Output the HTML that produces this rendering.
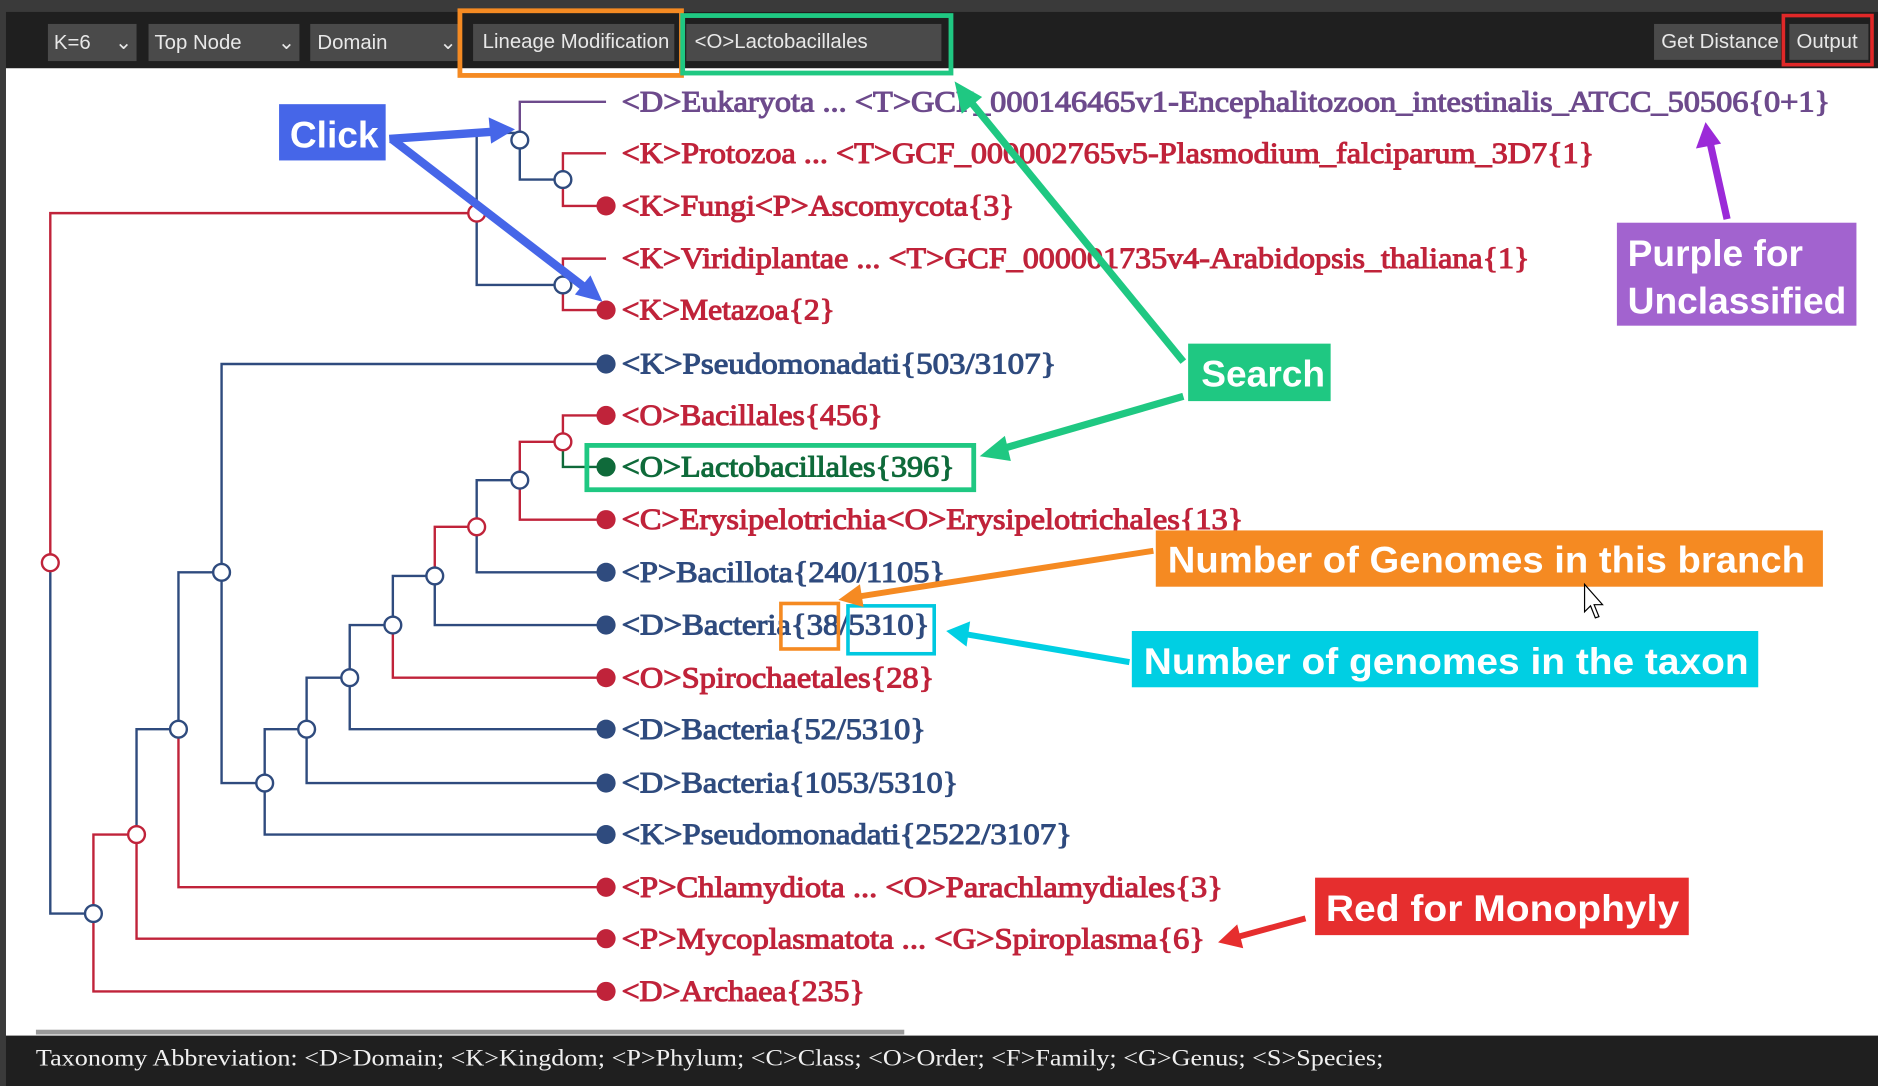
<!DOCTYPE html>
<html><head><meta charset="utf-8"><style>
html,body{margin:0;padding:0;background:#2b2b2b;}
svg{display:block;}
.t{font-family:"Liberation Serif",serif;font-size:25px;stroke-width:0.9;}
.r{fill:#c0233a;stroke:#c0233a;}
.b{fill:#2f4b7e;stroke:#2f4b7e;}
.p{fill:#6d4a8c;stroke:#6d4a8c;}
.g{fill:#0f6a3a;stroke:#0f6a3a;}
.tb{font-family:"Liberation Sans",sans-serif;font-size:17px;fill:#e8e8e8;}
.lab{font-family:"Liberation Sans",sans-serif;font-weight:bold;font-size:31px;fill:#fff;}
</style></head><body>
<svg width="1878" height="1086" viewBox="0 0 1568 907" preserveAspectRatio="none" xmlns="http://www.w3.org/2000/svg">
<rect x="0" y="0" width="1568" height="907" fill="#3a3a3a"/>
<rect x="5" y="10" width="1563" height="47" fill="#1f1f1f"/>
<rect x="5" y="57" width="1563" height="808" fill="#ffffff"/>
<rect x="5" y="865" width="1563" height="42" fill="#1f1f1f"/>
<rect x="30" y="860" width="725" height="4" fill="#9a9a9a"/>
<g>
<rect x="40" y="20" width="74" height="31" fill="#4a4a4a"/><text class="tb" x="45" y="41">K=6</text><text class="tb" x="96" y="41">⌄</text>
<rect x="124" y="20" width="126" height="31" fill="#4a4a4a"/><text class="tb" x="129" y="41">Top Node</text><text class="tb" x="232" y="41">⌄</text>
<rect x="259" y="20" width="125" height="31" fill="#4a4a4a"/><text class="tb" x="265" y="41">Domain</text><text class="tb" x="367" y="41">⌄</text>
<rect x="395" y="20" width="168" height="31" fill="#4a4a4a"/><text class="tb" x="403" y="40">Lineage Modification</text>
<rect x="573" y="20" width="213" height="31" fill="#4a4a4a"/><text class="tb" x="580" y="40">&lt;O&gt;Lactobacillales</text>
<rect x="1381" y="20" width="106" height="30" fill="#4a4a4a"/><text class="tb" x="1387" y="40">Get Distance</text>
<rect x="1494" y="20" width="66" height="30" fill="#4a4a4a"/><text class="tb" x="1500" y="40">Output</text>
<rect x="384" y="9" width="185" height="54" fill="none" stroke="#f58a22" stroke-width="4"/>
<rect x="570" y="13" width="224" height="48" fill="none" stroke="#1fc882" stroke-width="4"/>
<rect x="1489" y="13" width="74" height="41" fill="none" stroke="#e02828" stroke-width="3"/>
</g>
<g fill="none" stroke-width="2">
<path d="M42 470 V178 H398" stroke="#c0233a"/>
<path d="M42 470 V763 H78" stroke="#2f4b7e"/>
<path d="M398 178 V111 H434 M398 178 V238 H470" stroke="#2f4b7e"/>
<path d="M434 117 V85 H506" stroke="#6d4a8c"/>
<path d="M434 117 V150 H470" stroke="#2f4b7e"/>
<path d="M470 150 V128 H506 M470 150 V172 H506" stroke="#c0233a"/>
<path d="M470 238 V216 H506 M470 238 V259 H506" stroke="#c0233a"/>
<path d="M78 763 V828 H506 M78 763 V697 H114" stroke="#c0233a"/>
<path d="M114 697 V784 H506" stroke="#c0233a"/>
<path d="M114 697 V609 H149" stroke="#2f4b7e"/>
<path d="M149 609 V741 H506" stroke="#c0233a"/>
<path d="M149 609 V478 H185" stroke="#2f4b7e"/>
<path d="M185 478 V304 H506 M185 478 V654 H221" stroke="#2f4b7e"/>
<path d="M221 654 V697 H506 M221 654 V609 H256" stroke="#2f4b7e"/>
<path d="M256 609 V654 H506 M256 609 V566 H292" stroke="#2f4b7e"/>
<path d="M292 566 V609 H506 M292 566 V522 H328" stroke="#2f4b7e"/>
<path d="M328 522 V566 H506" stroke="#c0233a"/>
<path d="M328 522 V481 H363" stroke="#2f4b7e"/>
<path d="M363 481 V522 H506" stroke="#2f4b7e"/>
<path d="M363 481 V440 H398" stroke="#c0233a"/>
<path d="M398 440 V478 H506 M398 440 V401 H434" stroke="#2f4b7e"/>
<path d="M434 401 V434 H506 M434 401 V369 H470" stroke="#c0233a"/>
<path d="M470 369 V347 H506" stroke="#c0233a"/>
<path d="M470 369 V390 H506" stroke="#0f6a3a"/>
</g>
<g fill="#fff" stroke-width="2">
<circle cx="42" cy="470" r="7" stroke="#c0233a"/>
<circle cx="398" cy="178" r="7" stroke="#c0233a"/>
<circle cx="434" cy="117" r="7" stroke="#2f4b7e"/>
<circle cx="470" cy="150" r="7" stroke="#2f4b7e"/>
<circle cx="470" cy="238" r="7" stroke="#2f4b7e"/>
<circle cx="78" cy="763" r="7" stroke="#2f4b7e"/>
<circle cx="114" cy="697" r="7" stroke="#c0233a"/>
<circle cx="149" cy="609" r="7" stroke="#2f4b7e"/>
<circle cx="185" cy="478" r="7" stroke="#2f4b7e"/>
<circle cx="221" cy="654" r="7" stroke="#2f4b7e"/>
<circle cx="256" cy="609" r="7" stroke="#2f4b7e"/>
<circle cx="292" cy="566" r="7" stroke="#2f4b7e"/>
<circle cx="328" cy="522" r="7" stroke="#2f4b7e"/>
<circle cx="363" cy="481" r="7" stroke="#2f4b7e"/>
<circle cx="398" cy="440" r="7" stroke="#c0233a"/>
<circle cx="434" cy="401" r="7" stroke="#2f4b7e"/>
<circle cx="470" cy="369" r="7" stroke="#c0233a"/>
</g>
<g>
<circle cx="506" cy="172" r="8" fill="#c0233a"/>
<circle cx="506" cy="259" r="8" fill="#c0233a"/>
<circle cx="506" cy="304" r="8" fill="#2f4b7e"/>
<circle cx="506" cy="347" r="8" fill="#c0233a"/>
<circle cx="506" cy="390" r="8" fill="#0f6a3a"/>
<circle cx="506" cy="434" r="8" fill="#c0233a"/>
<circle cx="506" cy="478" r="8" fill="#2f4b7e"/>
<circle cx="506" cy="522" r="8" fill="#2f4b7e"/>
<circle cx="506" cy="566" r="8" fill="#c0233a"/>
<circle cx="506" cy="609" r="8" fill="#2f4b7e"/>
<circle cx="506" cy="654" r="8" fill="#2f4b7e"/>
<circle cx="506" cy="697" r="8" fill="#2f4b7e"/>
<circle cx="506" cy="741" r="8" fill="#c0233a"/>
<circle cx="506" cy="784" r="8" fill="#c0233a"/>
<circle cx="506" cy="828" r="8" fill="#c0233a"/>
</g>
<g>
<text class="t p" x="519" y="93" textLength="1009" lengthAdjust="spacingAndGlyphs">&lt;D&gt;Eukaryota ... &lt;T&gt;GCF_000146465v1-Encephalitozoon_intestinalis_ATCC_50506{0+1}</text>
<text class="t r" x="519" y="136" textLength="812" lengthAdjust="spacingAndGlyphs">&lt;K&gt;Protozoa ... &lt;T&gt;GCF_000002765v5-Plasmodium_falciparum_3D7{1}</text>
<text class="t r" x="519" y="180" textLength="328" lengthAdjust="spacingAndGlyphs">&lt;K&gt;Fungi&lt;P&gt;Ascomycota{3}</text>
<text class="t r" x="519" y="224" textLength="758" lengthAdjust="spacingAndGlyphs">&lt;K&gt;Viridiplantae ... &lt;T&gt;GCF_000001735v4-Arabidopsis_thaliana{1}</text>
<text class="t r" x="519" y="267" textLength="178" lengthAdjust="spacingAndGlyphs">&lt;K&gt;Metazoa{2}</text>
<text class="t b" x="519" y="312" textLength="363" lengthAdjust="spacingAndGlyphs">&lt;K&gt;Pseudomonadati{503/3107}</text>
<text class="t r" x="519" y="355" textLength="218" lengthAdjust="spacingAndGlyphs">&lt;O&gt;Bacillales{456}</text>
<text class="t g" x="519" y="398" textLength="278" lengthAdjust="spacingAndGlyphs">&lt;O&gt;Lactobacillales{396}</text>
<text class="t r" x="519" y="442" textLength="519" lengthAdjust="spacingAndGlyphs">&lt;C&gt;Erysipelotrichia&lt;O&gt;Erysipelotrichales{13}</text>
<text class="t b" x="519" y="486" textLength="270" lengthAdjust="spacingAndGlyphs">&lt;P&gt;Bacillota{240/1105}</text>
<text class="t b" x="519" y="530" textLength="257" lengthAdjust="spacingAndGlyphs">&lt;D&gt;Bacteria{38/5310}</text>
<text class="t r" x="519" y="574" textLength="261" lengthAdjust="spacingAndGlyphs">&lt;O&gt;Spirochaetales{28}</text>
<text class="t b" x="519" y="617" textLength="254" lengthAdjust="spacingAndGlyphs">&lt;D&gt;Bacteria{52/5310}</text>
<text class="t b" x="519" y="662" textLength="281" lengthAdjust="spacingAndGlyphs">&lt;D&gt;Bacteria{1053/5310}</text>
<text class="t b" x="519" y="705" textLength="376" lengthAdjust="spacingAndGlyphs">&lt;K&gt;Pseudomonadati{2522/3107}</text>
<text class="t r" x="519" y="749" textLength="502" lengthAdjust="spacingAndGlyphs">&lt;P&gt;Chlamydiota ... &lt;O&gt;Parachlamydiales{3}</text>
<text class="t r" x="519" y="792" textLength="487" lengthAdjust="spacingAndGlyphs">&lt;P&gt;Mycoplasmatota ... &lt;G&gt;Spiroplasma{6}</text>
<text class="t r" x="519" y="836" textLength="203" lengthAdjust="spacingAndGlyphs">&lt;D&gt;Archaea{235}</text>
</g>
<text x="30" y="890" font-family="Liberation Serif, serif" font-size="19" fill="#f0f0f0" textLength="1125" lengthAdjust="spacingAndGlyphs">Taxonomy Abbreviation: &lt;D&gt;Domain; &lt;K&gt;Kingdom; &lt;P&gt;Phylum; &lt;C&gt;Class; &lt;O&gt;Order; &lt;F&gt;Family; &lt;G&gt;Genus; &lt;S&gt;Species;</text>
<rect x="490" y="372" width="323" height="37" fill="none" stroke="#1fc882" stroke-width="4"/>
<rect x="652" y="504" width="48" height="38" fill="none" stroke="#f58a22" stroke-width="3"/>
<rect x="708" y="506" width="72" height="40" fill="none" stroke="#00c8e0" stroke-width="3"/>
<rect x="233" y="87" width="89" height="47" fill="#4666e8"/>
<text class="lab" x="242" y="123">Click</text>
<g stroke="#4666e8" stroke-width="7" fill="#4666e8">
<line x1="325" y1="116" x2="412" y2="110"/>
<polygon points="430,108 408,98 410,120" stroke="none"/>
<line x1="327" y1="116" x2="488" y2="240"/>
<polygon points="503,252 480,246 493,230" stroke="none"/>
</g>
<rect x="992" y="287" width="119" height="48" fill="#1fc882"/>
<text class="lab" x="1003" y="323">Search</text>
<g stroke="#1fc882" stroke-width="6" fill="#1fc882">
<line x1="988" y1="302" x2="808" y2="82"/>
<polygon points="797,68 803,95 820,81" stroke="none"/>
<line x1="988" y1="331" x2="836" y2="375"/>
<polygon points="818,381 839,364 844,385" stroke="none"/>
</g>
<rect x="1350" y="186" width="200" height="86" fill="#a263cf"/>
<text class="lab" x="1359" y="222">Purple for</text>
<text class="lab" x="1359" y="262">Unclassified</text>
<g stroke="#9b2ad8" stroke-width="6" fill="#9b2ad8">
<line x1="1442" y1="183" x2="1428" y2="120"/>
<polygon points="1424,102 1416,124 1437,120" stroke="none"/>
</g>
<rect x="965" y="443" width="557" height="47" fill="#f58a22"/>
<text class="lab" x="975" y="478" textLength="532" lengthAdjust="spacingAndGlyphs">Number of Genomes in this branch</text>
<g stroke="#f58a22" stroke-width="5" fill="#f58a22">
<line x1="963" y1="460" x2="718" y2="498"/>
<polygon points="700,501 718,488 721,507" stroke="none"/>
</g>
<rect x="945" y="527" width="523" height="47" fill="#00cfe3"/>
<text class="lab" x="955" y="563" textLength="505" lengthAdjust="spacingAndGlyphs">Number of genomes in the taxon</text>
<g stroke="#00cfe3" stroke-width="5" fill="#00cfe3">
<line x1="943" y1="553" x2="808" y2="530"/>
<polygon points="790,527 810,519 807,540" stroke="none"/>
</g>
<rect x="1098" y="733" width="312" height="48" fill="#e62e2e"/>
<text class="lab" x="1107" y="769" textLength="295" lengthAdjust="spacingAndGlyphs">Red for Monophyly</text>
<g stroke="#e62e2e" stroke-width="5" fill="#e62e2e">
<line x1="1090" y1="767" x2="1035" y2="782"/>
<polygon points="1017,787 1033,772 1038,792" stroke="none"/>
</g>
<path d="M1323 488 L1323 511 L1328 506 L1332 516 L1335 515 L1331 505 L1338 505 Z" fill="#fff" stroke="#000" stroke-width="1"/>
</svg>
</body></html>
